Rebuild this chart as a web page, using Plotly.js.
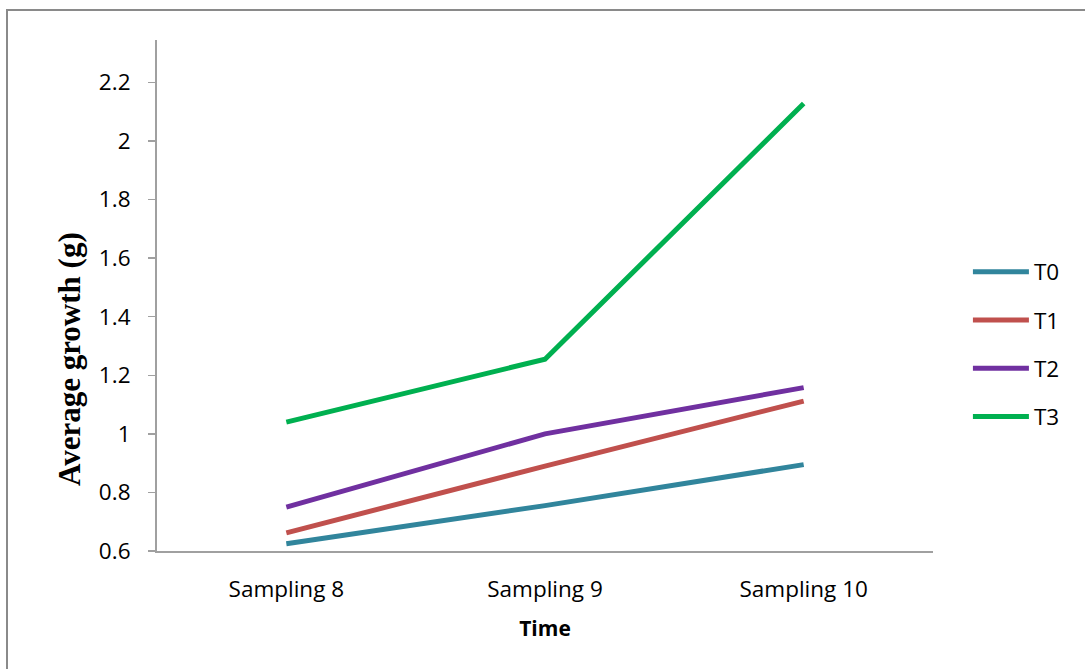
<!DOCTYPE html>
<html>
<head>
<meta charset="utf-8">
<script src="https://cdn.plot.ly/plotly-3.0.1.min.js"></script>
<style>
  html, body { margin: 0; padding: 0; background: #ffffff; }
  #chart { width: 1085px; height: 669px; }
</style>
</head>
<body>
<div id="chart"></div>
<script>
// Average growth per treatment over three samplings
const samplings = ["Sampling 8", "Sampling 9", "Sampling 10"];
const t0 = [0.625, 0.755, 0.895];
const t1 = [0.662, 0.890, 1.112];
const t2 = [0.750, 1.000, 1.158];
const t3 = [1.040, 1.255, 2.128];
const seriesNames = ["T0", "T1", "T2", "T3"];
const seriesColors = ["#31859C", "#C0504D", "#7030A0", "#00B050"];
const yTicks = [0.6, 0.8, 1, 1.2, 1.4, 1.6, 1.8, 2, 2.2];
const yTickText = ["0.6", "0.8", "1", "1.2", "1.4", "1.6", "1.8", "2", "2.2"];

const seriesValues = [t0, t1, t2, t3];
const traces = seriesValues.map((vals, i) => ({
  type: "scatter",
  mode: "lines",
  name: seriesNames[i],
  legendgroup: seriesNames[i],
  x: samplings,
  y: vals,
  line: { color: seriesColors[i], width: 5 },
  hoverinfo: "x+y+name"
}));

const tickFont = { family: "Open Sans, Noto Sans, sans-serif", size: 22.5, color: "#000000" };

const layout = {
  width: 1085,
  height: 669,
  margin: { l: 157, r: 152, t: 40, b: 118 },
  paper_bgcolor: "#ffffff",
  plot_bgcolor: "#ffffff",
  showlegend: true,
  legend: {
    x: 1.045,
    xanchor: "left",
    y: 0.405,
    yanchor: "middle",
    traceorder: "grouped",
    tracegroupgap: 16,
    itemwidth: 56,
    font: tickFont,
    bgcolor: "rgba(0,0,0,0)"
  },
  xaxis: {
    type: "category",
    range: [-0.5, 2.5],
    showgrid: false,
    zeroline: false,
    showline: true,
    linecolor: "#A0A0A0",
    linewidth: 2,
    ticks: "",
    ticklabelstandoff: 17,
    tickfont: tickFont,
    title: {
      text: "<b>Time</b>",
      font: { family: "Open Sans, Noto Sans, sans-serif", size: 21, color: "#000000" },
      standoff: 18
    },
    fixedrange: true
  },
  yaxis: {
    range: [0.6, 2.345],
    tickvals: yTicks,
    ticktext: yTickText,
    showgrid: false,
    zeroline: false,
    showline: true,
    linecolor: "#A0A0A0",
    linewidth: 2,
    ticks: "outside",
    ticklen: 7,
    tickwidth: 1.5,
    tickcolor: "#A0A0A0",
    ticklabelstandoff: 13,
    tickfont: tickFont,
    fixedrange: true
  },
  annotations: [{
    text: "<b>Average growth (g)</b>",
    textangle: -90,
    xref: "paper",
    yref: "paper",
    x: -0.112,
    y: 0.376,
    xanchor: "center",
    yanchor: "middle",
    showarrow: false,
    font: { family: "Liberation Serif, Times New Roman, serif", size: 31, color: "#000000" }
  }],
  shapes: [{
    type: "rect",
    xref: "paper",
    yref: "paper",
    x0: -0.1933,
    x1: 1.25,
    y0: -0.3,
    y1: 1.0587,
    line: { color: "#8A8A8A", width: 2 },
    fillcolor: "rgba(0,0,0,0)",
    layer: "below"
  }]
};

Plotly.newPlot("chart", traces, layout, { displayModeBar: false, staticPlot: true });
</script>
</body>
</html>
